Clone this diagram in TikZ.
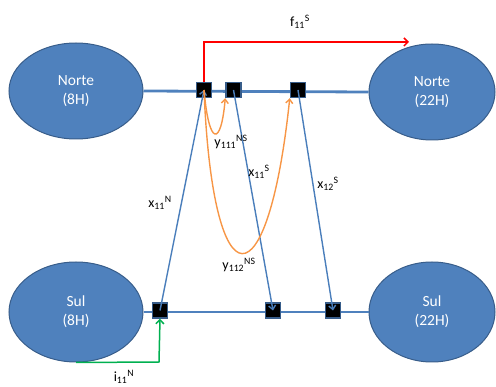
\documentclass[tikz,border=0pt]{standalone}
\usepackage{fontspec}
\setmainfont{Carlito}
\usetikzlibrary{arrows.meta,shapes.geometric}
\definecolor{nodeblue}{RGB}{79,129,189}
\definecolor{edgeblue}{RGB}{56,93,138}
\definecolor{flowblue}{RGB}{74,126,187}
\definecolor{flowor}{RGB}{247,150,70}
\definecolor{flowred}{RGB}{255,0,0}
\definecolor{flowgreen}{RGB}{0,176,80}
\tikzset{
  place/.style={ellipse, fill=nodeblue, draw=edgeblue, line width=1pt, text=white,
    font=\fontsize{15.5}{19}\selectfont, align=center, inner sep=0pt},
  slot/.style={rectangle, fill=black, draw=edgeblue, line width=1.5pt, minimum size=15pt, inner sep=0pt},
  track/.style={draw=nodeblue, line width=2.8pt},
  arc/.style={draw=flowblue, line width=1.4pt, -{Straight Barb[length=4pt,width=7pt]}},
  ycurve/.style={draw=flowor, line width=1.4pt, -{Straight Barb[length=4pt,width=7pt]}},
  fl/.style={font=\fontsize{14}{16}\selectfont, inner sep=0pt}
}
\begin{document}
\begin{tikzpicture}[x=1pt,y=-1pt]
\useasboundingbox (0,0) rectangle (496,387);
% places
\node[place, minimum width=134pt, minimum height=96pt] (n8) at (76,91) {\raisebox{-3pt}{\begin{tabular}{@{}c@{}}Norte\\(8H)\end{tabular}}};
\node[place, minimum width=126pt, minimum height=96pt] (n22) at (432,92) {\raisebox{-3pt}{\begin{tabular}{@{}c@{}}Norte\\(22H)\end{tabular}}};
\node[place, minimum width=134pt, minimum height=100pt] (s8) at (76,312) {\raisebox{-3pt}{\begin{tabular}{@{}c@{}}Sul\\(8H)\end{tabular}}};
\node[place, minimum width=126pt, minimum height=100pt] (s22) at (432,312) {\raisebox{-3pt}{\begin{tabular}{@{}c@{}}Sul\\(22H)\end{tabular}}};
% tracks
\draw[track] (n8.east) -- (n22.west);
\draw[track] (s8.east) -- (s22.west);
% slots
\node[slot] (t1) at (204,90) {};
\node[slot] (t2) at (233.5,90) {};
\node[slot] (t3) at (298,90) {};
\node[slot] (b1) at (160,310.5) {};
\node[slot] (b2) at (273,310.5) {};
\node[slot] (b3) at (333,310.5) {};
% red
\coordinate (rc) at (204,42);
\coordinate (rend) at (409,42);
\draw[flowred, line width=1.5pt, -{Straight Barb[length=4pt,width=8pt]}] (t1.north) -- (rc) -- (rend);
% green
\coordinate (gc) at (159,362);
\draw[flowgreen, line width=1.5pt, -{Straight Barb[length=4pt,width=8pt]}] (s8.south) -- (gc) -- (b1.south);
% blue arcs
\draw[arc] (b1.center) -- (t1.center);
\draw[arc] (t2.center) -- (b2.center);
\draw[arc] (t3.center) -- (b3.center);
% orange curves
\draw[ycurve] (t1.center) .. controls (209,147) and (221,147) .. (t2.south west);
\draw[ycurve] (t1.center) .. controls (213,308) and (268,305) .. (t3.south west);
% labels
\node[fl] (lf) at (300,22) {f\textsubscript{11}\textsuperscript{S}};
\node[fl] (li) at (124,377) {i\textsubscript{11}\textsuperscript{N}};
\node[fl] (lxn) at (160,203) {x\textsubscript{11}\textsuperscript{N}};
\node[fl] (ly1) at (231,142) {y\textsubscript{111}\textsuperscript{NS}};
\node[fl] (lxs1) at (259,172) {x\textsubscript{11}\textsuperscript{S}};
\node[fl] (lxs2) at (328,184) {x\textsubscript{12}\textsuperscript{S}};
\node[fl] (ly2) at (239,265) {y\textsubscript{112}\textsuperscript{NS}};
\end{tikzpicture}
\end{document}
